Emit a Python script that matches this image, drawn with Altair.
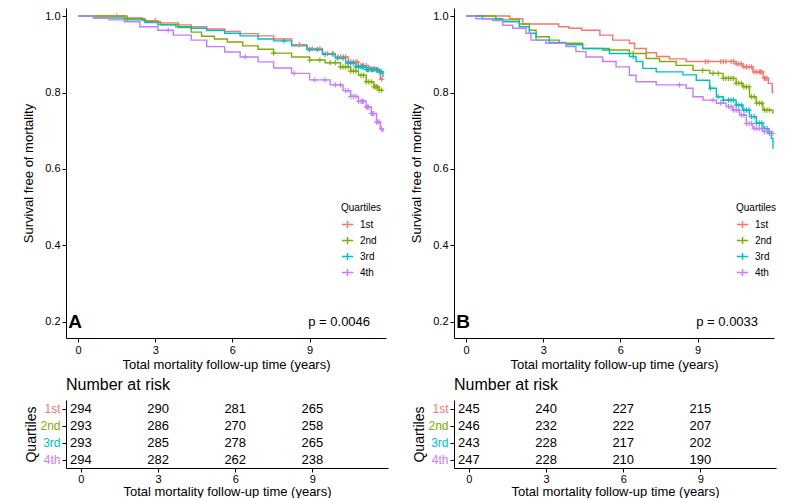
import altair as alt
import numpy as np
import pandas as pd

FONT = "Liberation Sans"
QUARTILES = ["1st", "2nd", "3rd", "4th"]
COLORS = ["#F8766D", "#7CAE00", "#00BFC4", "#C77CFF"]
RISK_TIMES = [0, 3, 6, 9]
X_TICKS = [0, 3, 6, 9]
Y_TICKS = [0.2, 0.4, 0.6, 0.8, 1.0]
XTITLE = "Total mortality follow-up time (years)"
YTITLE = "Survival free of mortality"

# ---------------- Panel A survival steps ----------------
A1_t = [0, 1.8, 2.5, 3.1, 3.9, 4.4, 5.0, 5.7, 6.3, 7.0, 7.6, 8.3, 8.9, 9.5, 10.0, 10.5, 10.9, 11.3, 11.6, 11.75, 11.85]
A1_s = [1.0, 0.995, 0.988, 0.982, 0.977, 0.972, 0.966, 0.96, 0.954, 0.948, 0.94, 0.925, 0.915, 0.902, 0.893, 0.88, 0.87, 0.862, 0.858, 0.835, 0.835]
A2_t = [0, 1.9, 2.6, 3.2, 3.9, 4.4, 4.8, 5.3, 5.8, 6.4, 7.0, 7.6, 8.3, 9.0, 9.6, 10.2, 10.6, 10.9, 11.2, 11.5, 11.7, 11.85]
A2_s = [1.0, 0.993, 0.985, 0.978, 0.97, 0.958, 0.947, 0.94, 0.932, 0.922, 0.913, 0.903, 0.893, 0.885, 0.878, 0.867, 0.856, 0.845, 0.828, 0.815, 0.806, 0.806]
A3_t = [0, 0.6, 1.8, 2.6, 3.1, 3.8, 4.4, 5.0, 5.7, 6.3, 7.0, 7.6, 8.3, 8.9, 9.5, 10.0, 10.4, 10.8, 11.2, 11.7, 11.85]
A3_s = [1.0, 0.995, 0.99, 0.983, 0.977, 0.972, 0.968, 0.962, 0.955, 0.948, 0.94, 0.935, 0.922, 0.912, 0.9, 0.89, 0.877, 0.867, 0.86, 0.854, 0.84]
A4_t = [0, 0.6, 1.2, 1.8, 2.4, 3.1, 3.7, 4.4, 5.0, 5.7, 6.3, 7.0, 7.6, 8.3, 9.0, 9.8, 10.3, 10.6, 10.9, 11.2, 11.4, 11.6, 11.75, 11.85]
A4_s = [1.0, 0.995, 0.99, 0.985, 0.972, 0.963, 0.95, 0.937, 0.92, 0.906, 0.893, 0.88, 0.864, 0.85, 0.833, 0.82, 0.805, 0.79, 0.777, 0.762, 0.745, 0.723, 0.705, 0.697]

A1_cens = [1.5, 3.0, 8.6, 9.1, 9.4, 9.7, 9.9, 10.1, 10.2, 10.3, 10.4, 10.5, 10.6, 10.7, 10.8, 10.85, 10.9, 11.0, 11.05, 11.1, 11.2, 11.3, 11.35, 11.4, 11.5, 11.55, 11.6, 11.7, 11.8]
A2_cens = [1.9, 7.6, 9.0, 9.4, 9.8, 10.0, 10.2, 10.3, 10.4, 10.5, 10.6, 10.7, 10.8, 11.0, 11.1, 11.2, 11.3, 11.4, 11.5, 11.55, 11.6, 11.65, 11.7, 11.8]
A3_cens = [8.0, 9.0, 9.3, 9.6, 9.9, 10.1, 10.3, 10.5, 10.6, 10.7, 10.8, 10.9, 11.0, 11.05, 11.1, 11.2, 11.25, 11.3, 11.4, 11.45, 11.5, 11.6, 11.65, 11.7, 11.8]
A4_cens = [3.5, 6.5, 8.4, 9.2, 9.6, 10.0, 10.2, 10.4, 10.5, 10.6, 10.7, 10.8, 10.9, 11.0, 11.05, 11.1, 11.2, 11.25, 11.3, 11.4, 11.45, 11.5, 11.6, 11.65, 11.7, 11.8]

# ---------------- Panel B survival steps ----------------
B1_t = [0, 1.7, 2.2, 3.6, 4.0, 4.5, 5.2, 5.7, 6.35, 6.55, 7.0, 7.4, 7.9, 8.55, 10.5, 10.75, 11.15, 11.55, 11.75, 11.9, 11.95]
B1_s = [1.0, 0.993, 0.979, 0.972, 0.968, 0.963, 0.95, 0.937, 0.929, 0.915, 0.904, 0.894, 0.888, 0.881, 0.875, 0.867, 0.854, 0.837, 0.824, 0.80, 0.80]
B2_t = [0, 1.16, 2.07, 2.46, 2.72, 3.23, 3.62, 4.53, 5.57, 6.35, 7.0, 7.52, 8.17, 8.82, 9.47, 9.99, 10.5, 10.76, 11.02, 11.28, 11.54, 11.93, 11.95]
B2_s = [1.0, 0.99, 0.979, 0.963, 0.946, 0.937, 0.929, 0.915, 0.911, 0.902, 0.889, 0.881, 0.871, 0.858, 0.85, 0.837, 0.824, 0.815, 0.789, 0.772, 0.754, 0.746, 0.746]
B3_t = [0, 0.64, 1.42, 2.07, 2.46, 2.72, 3.23, 3.88, 4.53, 5.31, 5.57, 6.35, 6.61, 6.87, 7.39, 8.43, 8.95, 9.47, 9.73, 9.99, 10.5, 10.76, 11.02, 11.28, 11.54, 11.74, 11.87, 11.93, 11.95]
B3_s = [1.0, 0.993, 0.985, 0.972, 0.955, 0.937, 0.931, 0.925, 0.915, 0.911, 0.902, 0.894, 0.881, 0.863, 0.854, 0.846, 0.832, 0.811, 0.789, 0.78, 0.767, 0.754, 0.737, 0.72, 0.706, 0.693, 0.68, 0.655, 0.655]
B4_t = [0, 0.38, 1.03, 1.42, 1.81, 2.33, 2.52, 3.1, 3.88, 4.27, 4.66, 5.31, 5.83, 6.35, 6.61, 7.39, 8.56, 8.82, 9.21, 9.73, 10.11, 10.37, 10.63, 10.89, 11.15, 11.54, 11.87, 11.95]
B4_s = [1.0, 0.993, 0.988, 0.976, 0.968, 0.955, 0.937, 0.929, 0.92, 0.907, 0.893, 0.881, 0.867, 0.845, 0.828, 0.82, 0.811, 0.789, 0.78, 0.772, 0.763, 0.754, 0.741, 0.719, 0.706, 0.698, 0.693, 0.693]

B1_cens = [9.3, 9.4, 9.9, 10.0, 10.1, 10.3, 10.4, 10.5, 10.6, 10.7, 10.8, 10.9, 11.0, 11.1, 11.2, 11.3, 11.4, 11.45, 11.5, 11.6, 11.65, 11.7]
B2_cens = [6.5, 9.2, 9.6, 9.8, 10.0, 10.1, 10.2, 10.3, 10.4, 10.5, 10.6, 10.7, 10.8, 10.9, 11.0, 11.1, 11.2, 11.3, 11.4, 11.5, 11.6, 11.7, 11.8]
B3_cens = [6.5, 9.5, 9.8, 10.0, 10.2, 10.3, 10.4, 10.5, 10.6, 10.7, 10.8, 10.9, 11.0, 11.1, 11.2, 11.3, 11.4, 11.5, 11.6, 11.7, 11.8]
B4_cens = [8.3, 9.6, 9.9, 10.2, 10.3, 10.4, 10.5, 10.6, 10.7, 10.8, 10.9, 11.0, 11.1, 11.2, 11.3, 11.4, 11.5, 11.6, 11.7, 11.8, 11.9]

# ---------------- Numbers at risk ----------------
A_risk_1st = [294, 290, 281, 265]
A_risk_2nd = [293, 286, 270, 258]
A_risk_3rd = [293, 285, 278, 265]
A_risk_4th = [294, 282, 262, 238]
B_risk_1st = [245, 240, 227, 215]
B_risk_2nd = [246, 232, 222, 207]
B_risk_3rd = [243, 228, 217, 202]
B_risk_4th = [247, 228, 210, 190]

A_label, A_p = "A", "p = 0.0046"
B_label, B_p = "B", "p = 0.0033"

XDOM = [-0.47, 11.97]
RXDOM = [-0.58, 11.94]
YDOM = [0.158, 1.021]
PW = 320
RPW = 322
KMH = 330
RH = 68


def step_value(ts, ss, c):
    i = int(np.searchsorted(ts, c, side="right")) - 1
    return ss[max(i, 0)]


def km_panel(curves, cens, label, pval, legend_x):
    rows, crow = [], []
    for q, (ts, ss), cs in zip(QUARTILES, curves, cens):
        for t, s in zip(ts, ss):
            rows.append({"t": t, "s": s, "q": q})
        for c in cs:
            crow.append({"t": c, "s": step_value(ts, ss, c), "q": q})
    df = pd.DataFrame(rows)
    cdf = pd.DataFrame(crow)
    xenc = alt.X("t:Q", scale=alt.Scale(domain=XDOM, nice=False, zero=False),
                 axis=alt.Axis(values=X_TICKS, title=XTITLE))
    yenc = alt.Y("s:Q", scale=alt.Scale(domain=YDOM, nice=False, zero=False),
                 axis=alt.Axis(values=Y_TICKS, format=".1f", title=YTITLE, titlePadding=9))
    color = alt.Color("q:N", scale=alt.Scale(domain=QUARTILES, range=COLORS),
                      legend=alt.Legend(title="Quartiles", orient="none", legendX=legend_x, legendY=195,
                                        symbolType="M-1,0H1M0,-0.6V0.6", symbolSize=130,
                                        symbolStrokeWidth=1.5, titleFontSize=10, labelFontSize=10,
                                        titleFont=FONT, labelFont=FONT, titleFontWeight="normal",
                                        rowPadding=3, titlePadding=5, labelOffset=6))
    lines = alt.Chart(df).mark_line(interpolate="step-after", strokeWidth=1.4).encode(
        x=xenc, y=yenc, color=color)
    pts = alt.Chart(cdf).mark_point(shape="M-1,0H1M0,-1V1", filled=False, size=28,
                                    strokeWidth=1.1, opacity=1).encode(
        x="t:Q", y="s:Q", color=alt.Color("q:N", legend=None))
    lab = alt.Chart(pd.DataFrame([{"t": -0.38, "s": 0.2, "txt": label}])).mark_text(
        align="left", baseline="middle", fontSize=19, fontWeight="bold", font=FONT, color="black"
    ).encode(x="t:Q", y="s:Q", text="txt:N")
    pv = alt.Chart(pd.DataFrame([{"t": 11.35, "s": 0.2, "txt": pval}])).mark_text(
        align="right", baseline="middle", fontSize=13, font=FONT, color="black"
    ).encode(x="t:Q", y="s:Q", text="txt:N")
    return alt.layer(lines, pts, lab, pv).properties(width=PW, height=KMH)


def risk_panel(r1, r2, r3, r4):
    rows = []
    for q, vals in zip(QUARTILES, [r1, r2, r3, r4]):
        for t, n in zip(RISK_TIMES, vals):
            rows.append({"t": t, "q": q, "n": n})
    df = pd.DataFrame(rows)
    label_color = {
        "condition": [
            {"test": "datum.value == '1st'", "value": COLORS[0]},
            {"test": "datum.value == '2nd'", "value": COLORS[1]},
            {"test": "datum.value == '3rd'", "value": COLORS[2]},
        ],
        "value": COLORS[3],
    }
    return alt.Chart(df).mark_text(fontSize=13, font=FONT, color="black").encode(
        x=alt.X("t:Q", scale=alt.Scale(domain=RXDOM, nice=False, zero=False),
                axis=alt.Axis(values=X_TICKS, title=XTITLE, titlePadding=1, labelPadding=1)),
        y=alt.Y("q:N", sort=QUARTILES, scale=alt.Scale(paddingInner=0, paddingOuter=0),
                axis=alt.Axis(title="Quartiles", labelColor=label_color, labelFontSize=12,
                              titleFontSize=14, titlePadding=1)),
        text="n:Q",
    ).properties(width=RPW, height=RH,
                 title=alt.TitleParams("Number at risk", anchor="start", frame="group",
                                       fontSize=16, font=FONT, fontWeight="normal", offset=7))


panelA = alt.vconcat(
    km_panel([(A1_t, A1_s), (A2_t, A2_s), (A3_t, A3_s), (A4_t, A4_s)],
             [A1_cens, A2_cens, A3_cens, A4_cens], A_label, A_p, 275),
    risk_panel(A_risk_1st, A_risk_2nd, A_risk_3rd, A_risk_4th),
    spacing=6,
)
panelB = alt.vconcat(
    km_panel([(B1_t, B1_s), (B2_t, B2_s), (B3_t, B3_s), (B4_t, B4_s)],
             [B1_cens, B2_cens, B3_cens, B4_cens], B_label, B_p, 282),
    risk_panel(B_risk_1st, B_risk_2nd, B_risk_3rd, B_risk_4th),
    spacing=6,
)

chart = alt.hconcat(panelA, panelB, spacing=22).resolve_legend(color="independent").properties(
    padding={"left": 14, "top": 0, "right": 0, "bottom": 0}
).configure_view(stroke=None).configure_axis(
    domainColor="black", domainWidth=1, tickColor="black", tickSize=4, tickWidth=1,
    labelColor="black", labelFont=FONT, titleFont=FONT, labelFontSize=11, titleFontSize=13,
    titleFontWeight="normal", grid=False, labelPadding=2, titlePadding=3,
).configure_text(font=FONT)

chart.save("out.html", embed_options={"renderer": "svg", "actions": False})
